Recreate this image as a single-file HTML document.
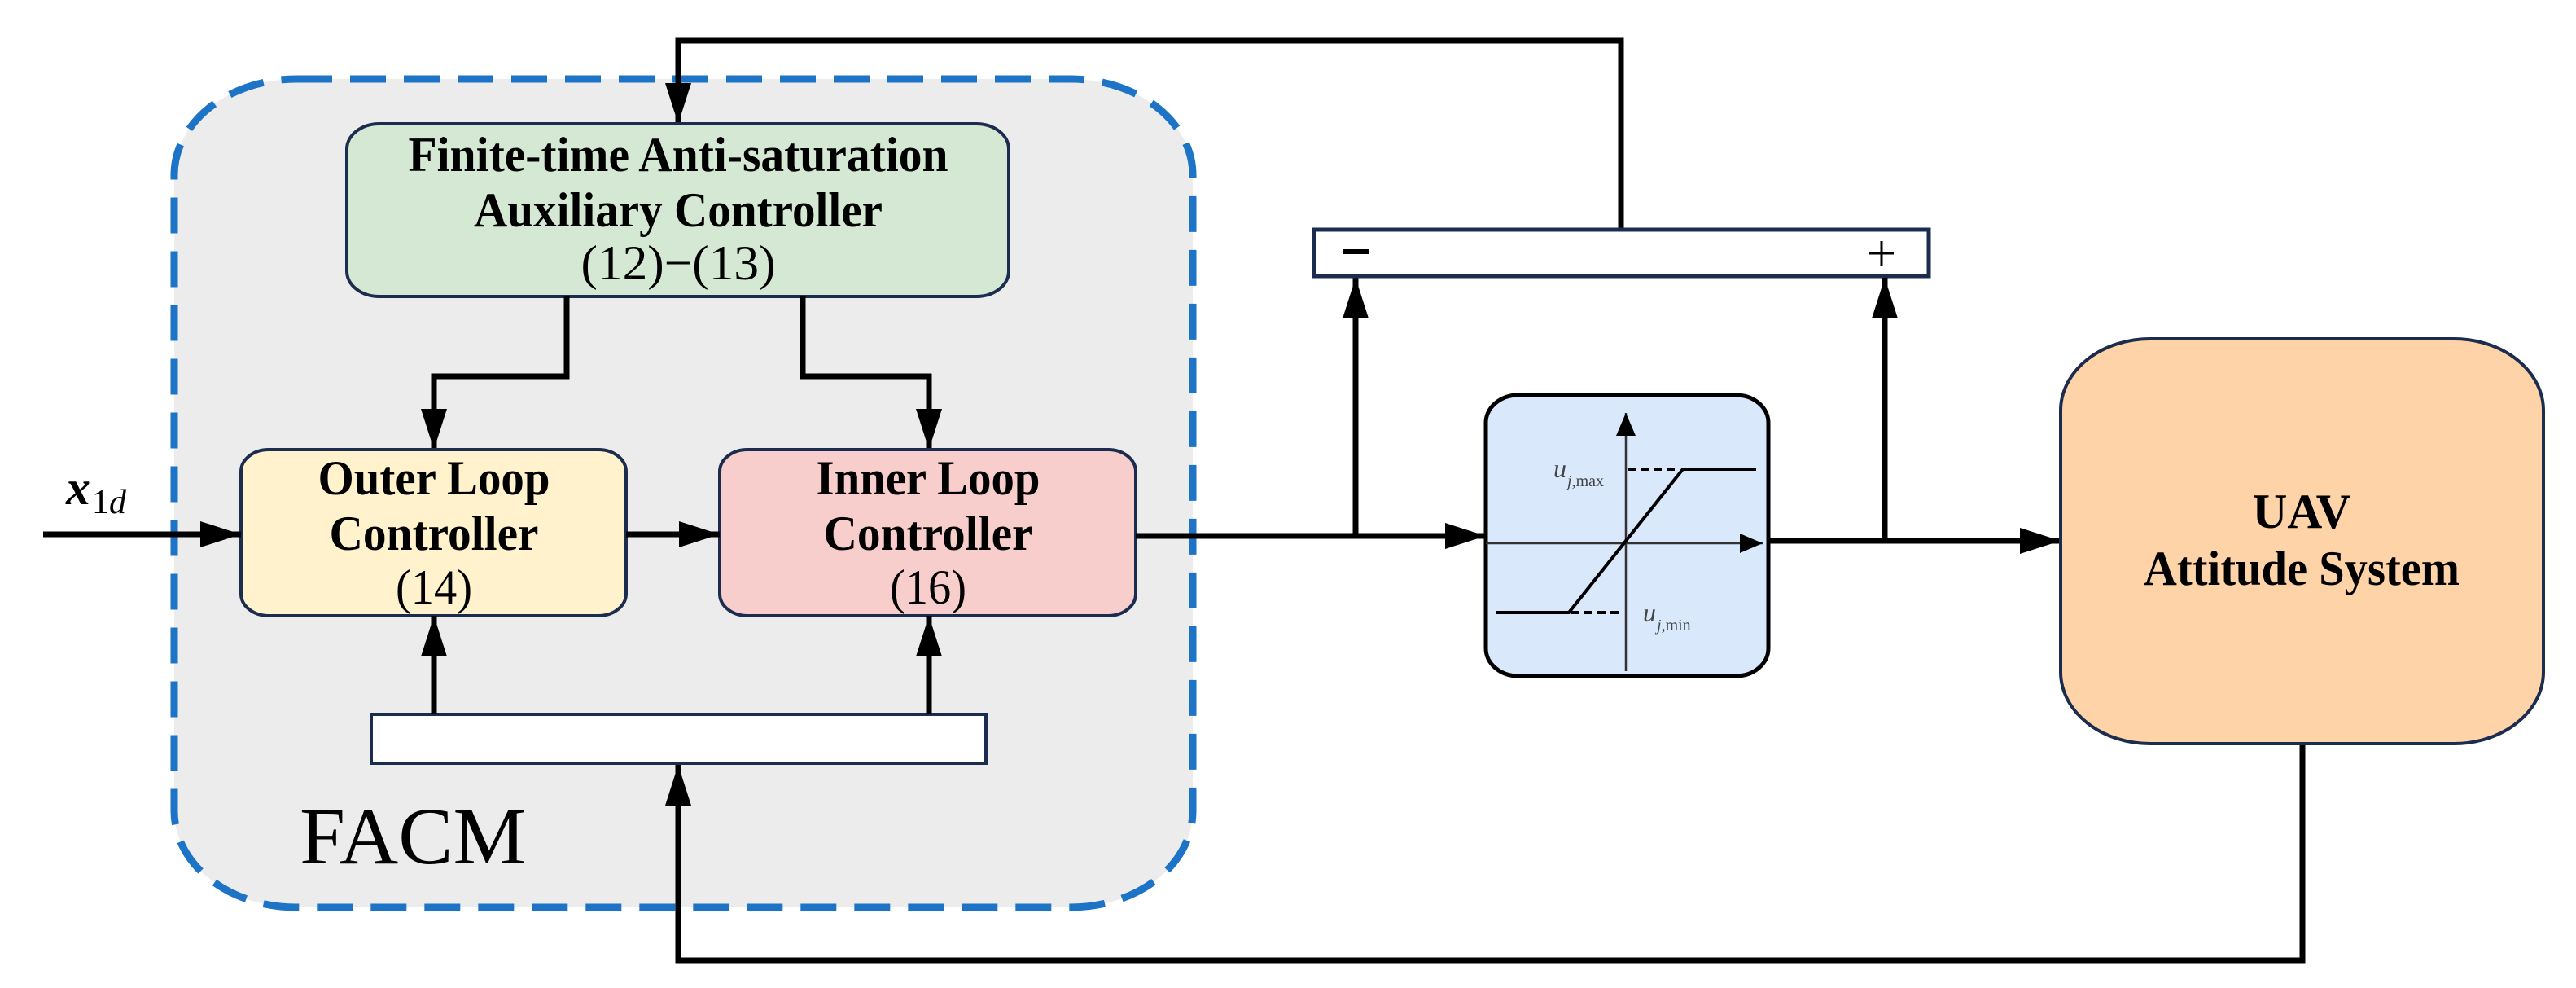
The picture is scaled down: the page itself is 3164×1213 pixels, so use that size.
<!DOCTYPE html>
<html><head><meta charset="utf-8"><style>
html,body{margin:0;padding:0;background:#fff;}
svg{display:block;}
text{font-family:"Liberation Serif",serif;fill:#000;}
.b{font-weight:bold;}
</style></head><body>
<svg width="3164" height="1213" viewBox="0 0 3164 1213" xmlns="http://www.w3.org/2000/svg">
<defs>
<marker id="a" markerUnits="userSpaceOnUse" markerWidth="52" markerHeight="34" refX="50" refY="16" orient="auto">
<path d="M0,0 L50,16 L0,32 Z" fill="#000"/></marker>
<marker id="s" markerUnits="userSpaceOnUse" markerWidth="30" markerHeight="26" refX="28" refY="12" orient="auto">
<path d="M0,0 L28,12 L0,24 Z" fill="#000"/></marker>
</defs>

<rect x="214" y="97" width="1251" height="1017" rx="150" ry="118" fill="#ececec" stroke="#1d74c6" stroke-width="9" stroke-dasharray="44,22"/>
<text x="368" y="1060" font-size="100" textLength="278" lengthAdjust="spacingAndGlyphs">FACM</text>

<polyline points="1991,282 1991,50 833,50 833,152" fill="none" stroke="#000" stroke-width="7" marker-end="url(#a)"/>

<rect x="426" y="152" width="813" height="212" rx="40" ry="31" fill="#d5e8d4" stroke="#1b2c4e" stroke-width="4"/>
<text class="b" x="833" y="210" font-size="60" text-anchor="middle" textLength="663" lengthAdjust="spacingAndGlyphs">Finite-time Anti-saturation</text>
<text class="b" x="833" y="278" font-size="60" text-anchor="middle" textLength="502" lengthAdjust="spacingAndGlyphs">Auxiliary Controller</text>
<text x="833" y="343" font-size="60" text-anchor="middle" textLength="239" lengthAdjust="spacingAndGlyphs">(12)−(13)</text>

<polyline points="696,364 696,462 533,462 533,552" fill="none" stroke="#000" stroke-width="7" marker-end="url(#a)"/>
<polyline points="986,364 986,462 1141,462 1141,552" fill="none" stroke="#000" stroke-width="7" marker-end="url(#a)"/>

<rect x="296" y="552" width="473" height="204" rx="34" ry="27" fill="#fff2cc" stroke="#1b2c4e" stroke-width="4"/>
<text class="b" x="533" y="607" font-size="60" text-anchor="middle" textLength="285" lengthAdjust="spacingAndGlyphs">Outer Loop</text>
<text class="b" x="533" y="675" font-size="60" text-anchor="middle" textLength="257" lengthAdjust="spacingAndGlyphs">Controller</text>
<text x="533" y="741" font-size="60" text-anchor="middle" textLength="94" lengthAdjust="spacingAndGlyphs">(14)</text>

<rect x="884" y="552" width="511" height="204" rx="34" ry="27" fill="#f8cecc" stroke="#1b2c4e" stroke-width="4"/>
<text class="b" x="1140" y="607" font-size="60" text-anchor="middle" textLength="275" lengthAdjust="spacingAndGlyphs">Inner Loop</text>
<text class="b" x="1140" y="675" font-size="60" text-anchor="middle" textLength="257" lengthAdjust="spacingAndGlyphs">Controller</text>
<text x="1140" y="741" font-size="60" text-anchor="middle" textLength="94" lengthAdjust="spacingAndGlyphs">(16)</text>

<line x1="53" y1="656" x2="296" y2="656" stroke="#000" stroke-width="7" marker-end="url(#a)"/>
<text x="81" y="619" font-size="60" font-style="italic" font-weight="bold">x</text>
<text x="113" y="630" font-size="42">1</text>
<text x="134" y="630" font-size="42" font-style="italic">d</text>
<line x1="769" y1="656" x2="884" y2="656" stroke="#000" stroke-width="7" marker-end="url(#a)"/>

<rect x="456" y="877" width="755" height="60" fill="#fff" stroke="#1b2c4e" stroke-width="4"/>
<line x1="533" y1="877" x2="533" y2="756" stroke="#000" stroke-width="7" marker-end="url(#a)"/>
<line x1="1141" y1="877" x2="1141" y2="756" stroke="#000" stroke-width="7" marker-end="url(#a)"/>

<polyline points="2828,913 2828,1179 833,1179 833,939" fill="none" stroke="#000" stroke-width="7" marker-end="url(#a)"/>

<line x1="1395" y1="658" x2="1825" y2="658" stroke="#000" stroke-width="7" marker-end="url(#a)"/>
<line x1="1665" y1="658" x2="1665" y2="341" stroke="#000" stroke-width="7" marker-end="url(#a)"/>

<rect x="1614" y="282" width="755" height="57" fill="#fff" stroke="#1b2c4e" stroke-width="5"/>
<line x1="1649" y1="309" x2="1681" y2="309" stroke="#000" stroke-width="6"/>
<line x1="2296" y1="311" x2="2326" y2="311" stroke="#000" stroke-width="3"/>
<line x1="2311" y1="296" x2="2311" y2="326" stroke="#000" stroke-width="3"/>

<rect x="1825" y="485" width="347" height="345" rx="40" ry="34" fill="#dae8fc" stroke="#000" stroke-width="5"/>
<line x1="1997" y1="824" x2="1997" y2="507" stroke="#333" stroke-width="2.5" marker-end="url(#s)"/>
<line x1="1825" y1="667" x2="2165" y2="667" stroke="#333" stroke-width="2.5" marker-end="url(#s)"/>
<polyline points="1837,752 1927,752 2067,576 2157,576" fill="none" stroke="#000" stroke-width="4"/>
<line x1="1930" y1="752" x2="1994" y2="752" stroke="#000" stroke-width="4" stroke-dasharray="10,6"/>
<line x1="1999" y1="576" x2="2064" y2="576" stroke="#000" stroke-width="4" stroke-dasharray="10,6"/>
<text x="1908" y="586" font-size="32" font-style="italic" style="fill:#444">u</text>
<text x="1925" y="597" font-size="20" style="fill:#444"><tspan font-style="italic">j</tspan>,max</text>
<text x="2018" y="763" font-size="32" font-style="italic" style="fill:#444">u</text>
<text x="2035" y="774" font-size="20" style="fill:#444"><tspan font-style="italic">j</tspan>,min</text>

<line x1="2172" y1="664" x2="2531" y2="664" stroke="#000" stroke-width="7" marker-end="url(#a)"/>
<line x1="2315" y1="664" x2="2315" y2="341" stroke="#000" stroke-width="7" marker-end="url(#a)"/>

<rect x="2531" y="416" width="593" height="497" rx="110" ry="88" fill="#fed3a8" stroke="#1b2c4e" stroke-width="4"/>
<text class="b" x="2827" y="648" font-size="60" text-anchor="middle" textLength="121" lengthAdjust="spacingAndGlyphs">UAV</text>
<text class="b" x="2827" y="718" font-size="60" text-anchor="middle" textLength="388" lengthAdjust="spacingAndGlyphs">Attitude System</text>
</svg>
</body></html>
